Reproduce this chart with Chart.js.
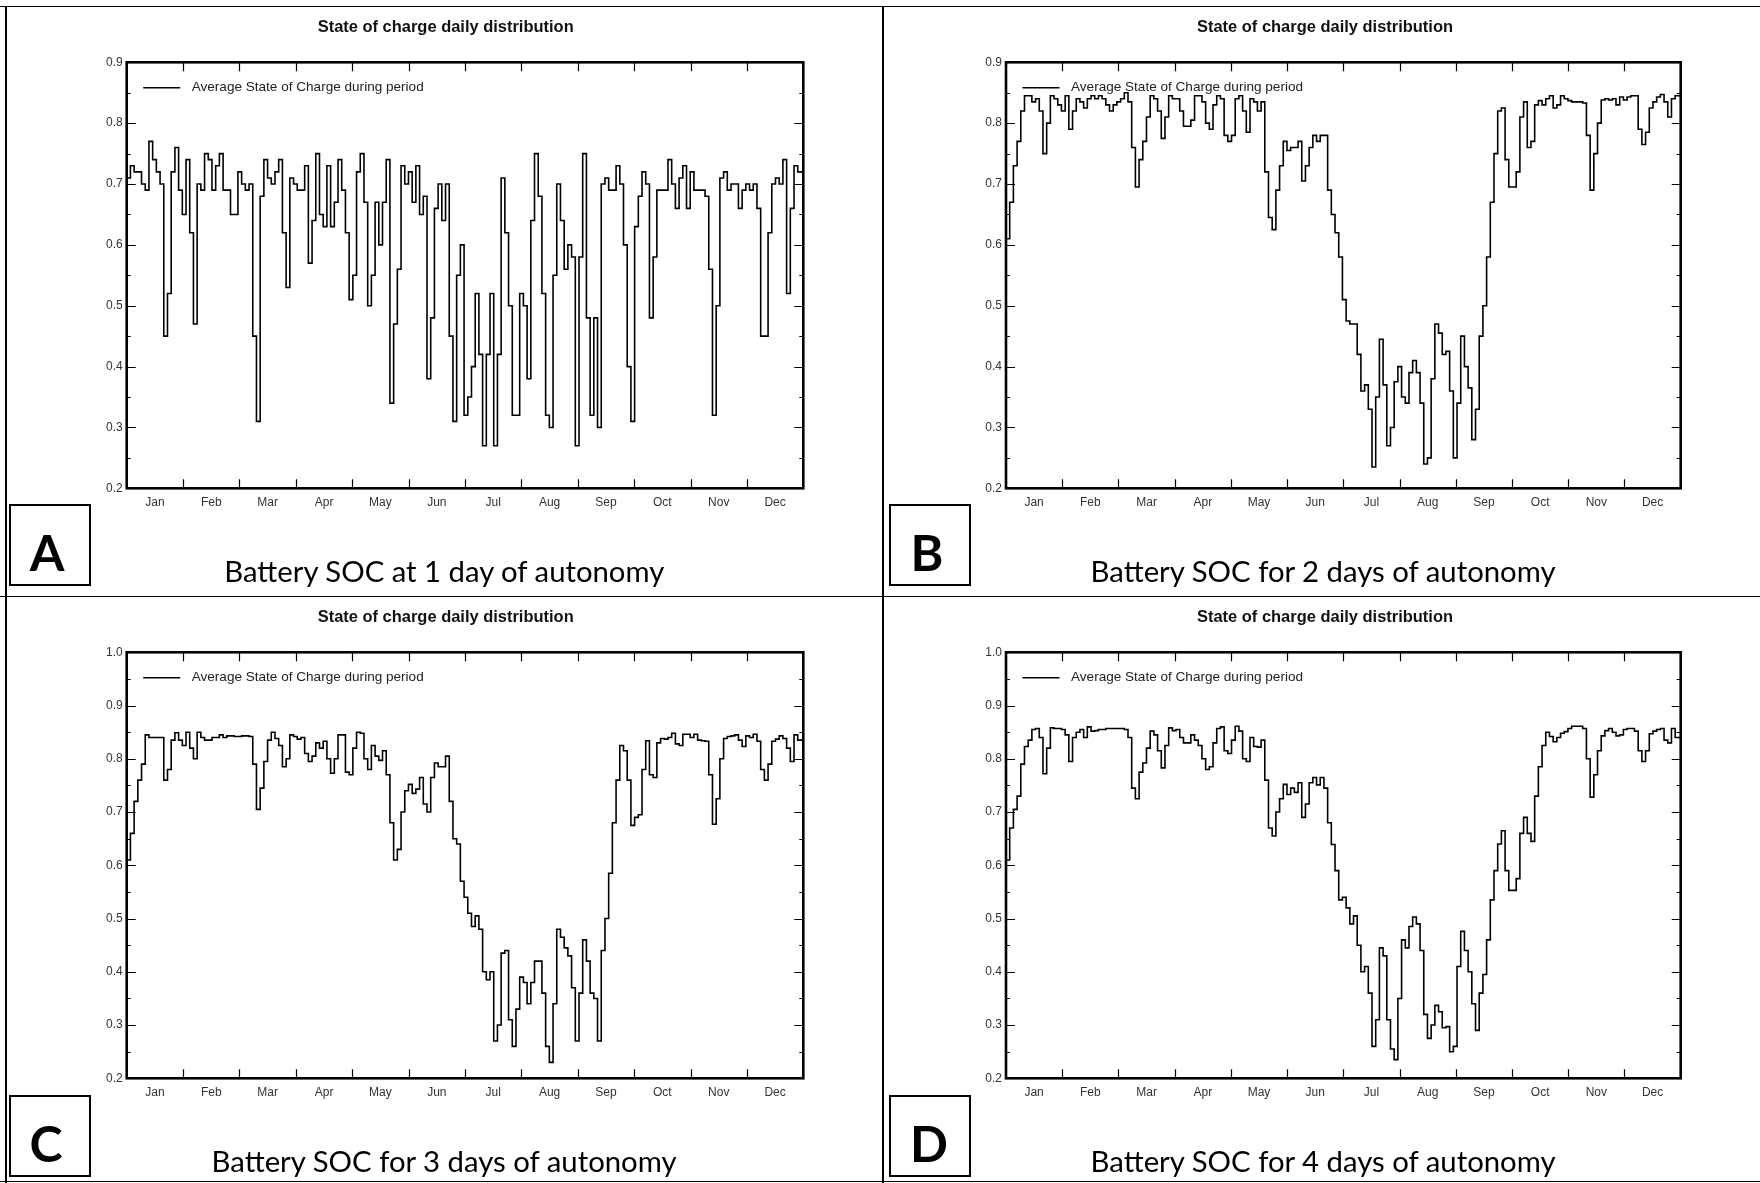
<!DOCTYPE html>
<html>
<head>
<meta charset="utf-8">
<script src="https://cdn.jsdelivr.net/npm/chart.js@4.4.0/dist/chart.umd.min.js"></script>
<style>
  html, body { margin: 0; padding: 0; background: #fff; }
  #page { position: relative; width: 1760px; height: 1183px; overflow: hidden; background: #fff; }
  canvas { position: absolute; }
  .rule { position: absolute; background: #000; }
  .box { position: absolute; width: 82px; height: 82px; border: 2px solid #000; box-sizing: border-box; }
  .letter { position: absolute; width: 82px; text-align: center; font: 700 50px Lato, "Open Sans", sans-serif; line-height: 50px; color: #000; }
  .cap { position: absolute; width: 800px; text-align: center; white-space: nowrap; font: 400 28px Lato, "Open Sans", sans-serif; line-height: 28px; color: #000; }
  .cap span { display: inline-block; transform-origin: 50% 50%; }
</style>
</head>
<body>
<div id="page">
  <div class="rule" style="left:0;top:5.5px;width:1760px;height:1.5px"></div>
  <div class="rule" style="left:5px;top:5.5px;width:1.5px;height:1178px"></div>
  <div class="rule" style="left:882px;top:5.5px;width:1.5px;height:1178px"></div>
  <div class="rule" style="left:0;top:595.5px;width:1760px;height:1.5px"></div>
  <div class="rule" style="left:0;top:1180.5px;width:1760px;height:1.5px"></div>

  <canvas id="chartA" width="883" height="596" style="left:0;top:0"></canvas>
  <canvas id="chartB" width="877" height="596" style="left:883px;top:0"></canvas>
  <canvas id="chartC" width="883" height="587" style="left:0;top:596px"></canvas>
  <canvas id="chartD" width="877" height="587" style="left:883px;top:596px"></canvas>

  <div class="box" style="left:9px;top:504px"></div>
  <div class="box" style="left:889px;top:504px"></div>
  <div class="box" style="left:9px;top:1095px"></div>
  <div class="box" style="left:889px;top:1095px"></div>
  <div class="letter" style="left:6px;top:527px">A</div>
  <div class="letter" style="left:886px;top:527px">B</div>
  <div class="letter" style="left:5px;top:1118px">C</div>
  <div class="letter" style="left:888px;top:1118px">D</div>

  <div class="cap" data-w="440" style="left:44px;top:557px"><span>Battery SOC at 1 day of autonomy</span></div>
  <div class="cap" data-w="465" style="left:923px;top:557px"><span>Battery SOC for 2 days of autonomy</span></div>
  <div class="cap" data-w="465" style="left:44px;top:1147px"><span>Battery SOC for 3 days of autonomy</span></div>
  <div class="cap" data-w="465" style="left:923px;top:1147px"><span>Battery SOC for 4 days of autonomy</span></div>
</div>

<script>
// x axis labels
const months = ['Jan', 'Feb', 'Mar', 'Apr', 'May', 'Jun', 'Jul', 'Aug', 'Sep', 'Oct', 'Nov', 'Dec'];
const chartTitle = 'State of charge daily distribution';
const legendLabel = 'Average State of Charge during period';

// average SOC, one value per 2-day step (day 0, 2, 4 ... 364)
const socA = [
  0.64,0.71,0.73,0.72,0.72,0.70,0.69,0.77,0.74,0.72,0.70,0.45,0.52,0.72,0.76,0.69,
  0.65,0.74,0.62,0.47,0.70,0.69,0.75,0.74,0.69,0.73,0.75,0.69,0.69,0.65,0.65,
  0.72,0.70,0.69,0.70,0.45,0.31,0.68,0.74,0.71,0.70,0.72,0.74,0.62,0.53,0.71,
  0.70,0.69,0.69,0.73,0.57,0.64,0.75,0.65,0.63,0.73,0.63,0.67,0.74,0.69,0.62,0.51,
  0.55,0.72,0.75,0.67,0.50,0.55,0.67,0.60,0.67,0.74,0.34,0.47,0.56,0.73,0.70,
  0.72,0.67,0.73,0.65,0.68,0.38,0.48,0.66,0.70,0.64,0.70,0.45,0.31,0.55,0.60,
  0.32,0.35,0.40,0.52,0.42,0.27,0.42,0.52,0.27,0.42,0.71,0.62,0.50,0.32,0.32,
  0.52,0.50,0.38,0.64,0.75,0.68,0.52,0.32,0.30,0.55,0.70,0.64,0.56,0.60,0.58,
  0.27,0.58,0.75,0.48,0.32,0.48,0.30,0.70,0.71,0.69,0.69,0.73,0.70,0.60,0.40,
  0.31,0.63,0.68,0.72,0.70,0.48,0.58,0.69,0.69,0.69,0.74,0.70,0.66,0.71,0.73,
  0.66,0.72,0.69,0.69,0.69,0.68,0.56,0.32,0.50,0.71,0.72,0.69,0.70,0.70,0.66,
  0.69,0.70,0.69,0.70,0.66,0.45,0.45,0.62,0.70,0.71,0.70,0.74,0.52,0.66,0.73,0.72
];
const socB = [
  0.605,0.61,0.67,0.73,0.77,0.82,0.845,0.845,0.835,0.84,0.82,0.75,0.80,0.845,0.84,
  0.83,0.82,0.845,0.79,0.82,0.84,0.835,0.825,0.84,0.845,0.84,0.845,0.84,0.83,0.82,
  0.83,0.835,0.84,0.85,0.835,0.76,0.695,0.74,0.77,0.81,0.845,0.84,0.82,0.775,0.81,
  0.845,0.84,0.84,0.82,0.795,0.795,0.805,0.845,0.845,0.835,0.80,0.79,0.83,0.845,0.84,
  0.78,0.77,0.78,0.84,0.845,0.82,0.785,0.84,0.835,0.82,0.835,0.72,0.645,0.625,0.69,0.73,
  0.77,0.755,0.76,0.76,0.77,0.705,0.73,0.76,0.78,0.77,0.78,0.78,0.69,0.65,0.62,0.58,
  0.51,0.475,0.47,0.47,0.42,0.36,0.37,0.33,0.235,0.35,0.445,0.37,0.27,0.30,0.375,
  0.40,0.35,0.34,0.39,0.41,0.39,0.34,0.24,0.25,0.38,0.47,0.455,0.42,0.425,0.36,
  0.25,0.34,0.45,0.40,0.365,0.28,0.33,0.45,0.50,0.58,0.67,0.75,0.82,0.825,0.74,
  0.695,0.695,0.72,0.81,0.835,0.76,0.77,0.83,0.837,0.83,0.84,0.845,0.825,0.83,0.845,
  0.84,0.837,0.835,0.835,0.835,0.833,0.78,0.69,0.75,0.80,0.838,0.84,0.838,0.84,0.83,
  0.843,0.838,0.843,0.845,0.845,0.79,0.765,0.785,0.825,0.835,0.843,0.847,0.835,0.81,0.84,0.845
];
const socC = [
  0.61,0.61,0.66,0.72,0.76,0.79,0.845,0.84,0.84,0.84,0.84,0.76,0.78,0.835,0.849,
  0.835,0.825,0.85,0.82,0.80,0.85,0.84,0.835,0.835,0.84,0.84,0.845,0.84,0.843,0.843,
  0.842,0.842,0.843,0.843,0.842,0.79,0.705,0.745,0.795,0.835,0.85,0.838,0.825,0.785,0.80,
  0.845,0.842,0.837,0.84,0.81,0.795,0.805,0.83,0.82,0.833,0.80,0.773,0.80,0.845,0.845,
  0.775,0.77,0.82,0.85,0.848,0.80,0.78,0.825,0.805,0.797,0.815,0.77,0.68,0.61,0.63,0.70,
  0.74,0.752,0.735,0.743,0.765,0.715,0.70,0.765,0.792,0.785,0.785,0.805,0.72,0.65,0.64,0.57,
  0.54,0.51,0.485,0.505,0.48,0.40,0.385,0.40,0.27,0.30,0.435,0.44,0.31,0.26,0.33,
  0.39,0.38,0.34,0.38,0.42,0.42,0.36,0.26,0.23,0.34,0.48,0.465,0.445,0.43,0.37,
  0.27,0.36,0.46,0.42,0.36,0.35,0.27,0.44,0.50,0.585,0.68,0.76,0.825,0.815,0.76,
  0.675,0.69,0.695,0.78,0.834,0.77,0.765,0.83,0.838,0.837,0.84,0.848,0.828,0.825,0.846,
  0.846,0.84,0.846,0.835,0.834,0.833,0.77,0.677,0.725,0.80,0.838,0.842,0.843,0.845,0.835,
  0.823,0.843,0.84,0.846,0.833,0.78,0.76,0.79,0.833,0.837,0.843,0.838,0.82,0.795,0.845,0.835
];
const socD = [
  0.60,0.61,0.67,0.705,0.73,0.79,0.823,0.835,0.855,0.857,0.84,0.772,0.82,0.858,0.857,
  0.857,0.855,0.845,0.795,0.84,0.85,0.855,0.84,0.86,0.852,0.853,0.855,0.855,0.857,0.857,
  0.857,0.857,0.857,0.855,0.84,0.745,0.725,0.775,0.792,0.82,0.852,0.845,0.815,0.783,0.825,
  0.858,0.853,0.855,0.84,0.83,0.83,0.845,0.835,0.825,0.80,0.78,0.785,0.83,0.857,0.86,
  0.815,0.81,0.835,0.861,0.852,0.80,0.795,0.84,0.823,0.822,0.835,0.76,0.67,0.655,0.70,0.725,
  0.752,0.733,0.745,0.737,0.755,0.69,0.715,0.755,0.765,0.751,0.765,0.745,0.68,0.639,0.59,0.535,
  0.54,0.52,0.49,0.505,0.45,0.40,0.41,0.36,0.26,0.31,0.445,0.43,0.31,0.255,0.235,
  0.35,0.46,0.445,0.485,0.503,0.49,0.44,0.32,0.275,0.30,0.337,0.325,0.295,0.297,0.25,
  0.26,0.41,0.476,0.44,0.40,0.34,0.29,0.36,0.395,0.46,0.535,0.59,0.64,0.665,0.59,
  0.553,0.553,0.575,0.66,0.69,0.66,0.645,0.73,0.785,0.825,0.85,0.842,0.832,0.84,0.848,
  0.851,0.857,0.861,0.861,0.861,0.857,0.80,0.728,0.77,0.815,0.843,0.853,0.857,0.85,0.843,
  0.845,0.855,0.857,0.857,0.852,0.815,0.795,0.815,0.847,0.852,0.855,0.857,0.835,0.83,0.857,0.84
];

const yearDays = 365;
const stepDays = 2;

const sansFont = '"Liberation Sans", Arial, sans-serif';

// draws the boxed frame, inward ticks, legend and title
const framePlugin = {
  id: 'frame',
  afterDraw(chart) {
    const { ctx, chartArea: a, scales: { x, y } } = chart;
    ctx.save();
    ctx.strokeStyle = '#000';
    ctx.lineWidth = 1.2;
    ctx.beginPath();
    for (let i = 1; i < 12; i++) {
      const px = Math.round(x.getPixelForValue(i * yearDays / 12)) + 0.5;
      ctx.moveTo(px, a.top); ctx.lineTo(px, a.top + 9);
      ctx.moveTo(px, a.bottom); ctx.lineTo(px, a.bottom - 9);
    }
    const yMin = y.min, yMax = y.max;
    for (let v = yMin; v <= yMax + 1e-6; v += 0.05) {
      const major = Math.abs(Math.round(v * 10) - v * 10) < 1e-6;
      const len = major ? 9 : 4;
      if (v < yMin + 1e-6 || v > yMax - 1e-6) continue;
      const py = Math.round(y.getPixelForValue(v)) + 0.5;
      ctx.moveTo(a.left, py); ctx.lineTo(a.left + len, py);
      ctx.moveTo(a.right, py); ctx.lineTo(a.right - len, py);
    }
    ctx.stroke();

    ctx.lineWidth = 2.6;
    ctx.strokeRect(a.left, a.top, a.right - a.left, a.bottom - a.top);

    // legend inside the plot
    ctx.lineWidth = 1.4;
    ctx.beginPath();
    ctx.moveTo(a.left + 16.5, a.top + 25.5);
    ctx.lineTo(a.left + 53.5, a.top + 25.5);
    ctx.stroke();
    ctx.fillStyle = '#222';
    fitText(ctx, legendLabel, a.left + 65, a.top + 25.5, 232, '13px ' + sansFont);

    // title above the plot
    ctx.fillStyle = '#111';
    fitText(ctx, chartTitle, a.left + 191, a.top - 34.5, 256, 'bold 16px ' + sansFont);
    ctx.restore();
  }
};

function fitText(ctx, text, x, y, width, font) {
  ctx.font = font;
  ctx.textAlign = 'left';
  ctx.textBaseline = 'middle';
  const w = ctx.measureText(text).width;
  ctx.save();
  ctx.translate(x, y);
  ctx.scale(width / w, 1);
  ctx.fillText(text, 0, 0);
  ctx.restore();
}

const panels = [
  { id: 'chartA', values: socA, yMax: 0.9, padding: { left: 86.7, top: 62.3, right: 79.7, bottom: 77.7 } },
  { id: 'chartB', values: socB, yMax: 0.9, padding: { left: 83, top: 62.3, right: 79.3, bottom: 77.7 } },
  { id: 'chartC', values: socC, yMax: 1.0, padding: { left: 86.7, top: 56.3, right: 79.7, bottom: 74.7 } },
  { id: 'chartD', values: socD, yMax: 1.0, padding: { left: 83, top: 56.3, right: 79.3, bottom: 74.7 } }
];

panels.forEach(p => {
  const points = p.values.map((v, i) => ({ x: i * stepDays, y: v }));
  points.push({ x: yearDays, y: p.values[p.values.length - 1] });

  new Chart(document.getElementById(p.id), {
    type: 'line',
    data: {
      datasets: [{
        label: legendLabel,
        data: points,
        borderColor: '#000',
        borderWidth: 1.6,
        pointRadius: 0,
        stepped: 'after',
        fill: false
      }]
    },
    options: {
      responsive: false,
      animation: false,
      layout: { padding: p.padding },
      plugins: { legend: { display: false }, title: { display: false }, tooltip: { enabled: false } },
      scales: {
        x: {
          type: 'linear',
          min: 0,
          max: yearDays,
          grid: { display: false, drawTicks: false },
          border: { display: false },
          afterBuildTicks: s => { s.ticks = months.map((m, i) => ({ value: (i + 0.5) * yearDays / 12 })); },
          afterFit: s => { s.height = 30; },
          ticks: {
            autoSkip: false,
            maxRotation: 0,
            padding: 7,
            color: '#333',
            font: { family: sansFont, size: 12 },
            callback: (v, i) => months[i]
          }
        },
        y: {
          min: 0.2,
          max: p.yMax,
          grid: { display: false, drawTicks: false },
          border: { display: false },
          afterFit: s => { s.width = 40; },
          ticks: {
            stepSize: 0.1,
            padding: 4,
            color: '#333',
            font: { family: sansFont, size: 12 },
            callback: v => v.toFixed(1)
          }
        }
      }
    },
    plugins: [framePlugin]
  });
});

// squeeze the captions to the widths in the figure
function fitCaptions() {
  document.querySelectorAll('.cap').forEach(el => {
    const span = el.querySelector('span');
    span.style.transform = 'none';
    const w = span.getBoundingClientRect().width;
    span.style.transform = 'scaleX(' + (Number(el.dataset.w) / w) + ')';
  });
}
fitCaptions();
document.fonts.ready.then(fitCaptions);
</script>
</body>
</html>
